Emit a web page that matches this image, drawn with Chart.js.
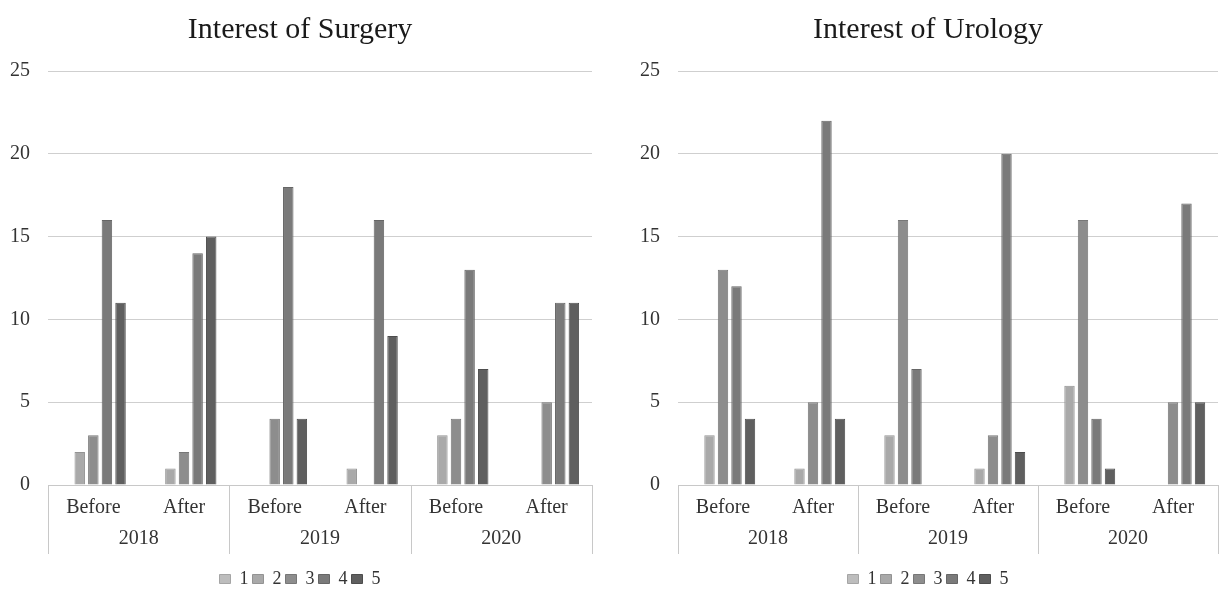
<!DOCTYPE html>
<html>
<head>
<meta charset="utf-8">
<script src="https://cdn.jsdelivr.net/npm/chart.js@4"></script>
<style>
  html, body { margin: 0; padding: 0; background: #fff; overflow: hidden; }
  body { width: 1219px; height: 591px; position: relative; }
  .box { position: absolute; top: 0; height: 598px; }
  #boxL { left: 0; width: 600px; }
  #boxR { left: 630px; width: 589px; }
</style>
</head>
<body>
<div class="box" id="boxL"><canvas id="chartSurgery"></canvas></div>
<div class="box" id="boxR"><canvas id="chartUrology"></canvas></div>
<script>
const categories = ['Before', 'After', 'Before', 'After', 'Before', 'After'];
const years = ['2018', '2019', '2020'];
const seriesNames = ['1', '2', '3', '4', '5'];
const yTicks = [0, 5, 10, 15, 20, 25];

// Interest of Surgery
const surgery1 = [0, 0, 0, 0, 0, 0];
const surgery2 = [2, 1, 0, 1, 3, 0];
const surgery3 = [3, 2, 4, 0, 4, 5];
const surgery4 = [16, 14, 18, 16, 13, 11];
const surgery5 = [11, 15, 4, 9, 7, 11];

// Interest of Urology
const urology1 = [0, 0, 0, 0, 0, 0];
const urology2 = [3, 1, 3, 1, 6, 0];
const urology3 = [13, 5, 16, 3, 16, 5];
const urology4 = [12, 22, 7, 20, 4, 17];
const urology5 = [4, 4, 0, 2, 1, 5];

const fills = ['#bdbdbd', '#a9a9a9', '#8d8d8d', '#7a7a7a', '#5f5f5f'];
const edges = ['#a5a5a5', '#939393', '#777777', '#666666', '#4d4d4d'];
const serif = 'Liberation Serif';

// vertical separators between year groups, spanning both label rows
const groupLines = {
  id: 'groupLines',
  afterDraw(chart) {
    const x = chart.scales.x, x2 = chart.scales.x2;
    const top = chart.chartArea.bottom, bottom = x2.top + 31;
    const xs = [x.left];
    for (let i = 1; i < years.length; i++) {
      const k = i * 2;
      xs.push((x.getPixelForValue(k - 1) + x.getPixelForValue(k)) / 2);
    }
    xs.push(x.right);
    const ctx = chart.ctx;
    ctx.save();
    ctx.strokeStyle = '#c8c8c8';
    ctx.lineWidth = 1;
    xs.forEach(px => {
      const p = Math.round(px) + 0.5;
      ctx.beginPath();
      ctx.moveTo(p, top);
      ctx.lineTo(p, bottom);
      ctx.stroke();
    });
    ctx.restore();
  }
};

function makeChart(id, title, series, pad, yWidth, yPad) {
  return new Chart(document.getElementById(id), {
    type: 'bar',
    data: {
      labels: categories,
      datasets: series.map((s, i) => ({
        label: seriesNames[i],
        data: s,
        backgroundColor: fills[i],
        borderColor: edges[i],
        borderWidth: 1,
        categoryPercentage: 0.75,
        barPercentage: 0.77,
      })),
    },
    options: {
      responsive: true,
      maintainAspectRatio: false,
      animation: false,
      layout: { padding: { left: pad[0], right: pad[1], top: 0, bottom: 0 } },
      plugins: {
        title: {
          display: true,
          text: title,
          color: '#1a1a1a',
          font: { family: serif, size: 30, weight: 'normal' },
          padding: { top: 12, bottom: 23 },
        },
        legend: {
          position: 'bottom',
          labels: {
            color: '#333',
            font: { family: serif, size: 18 },
            boxWidth: 11,
            boxHeight: 9,
            padding: 4,
          },
        },
        tooltip: { enabled: false },
      },
      scales: {
        x: {
          position: 'bottom',
          offset: true,
          afterFit: s => { s.height = 38; },
          grid: { display: false, drawTicks: false },
          border: { display: true, color: '#c8c8c8' },
          ticks: { color: '#333', font: { family: serif, size: 20 }, padding: 11, maxRotation: 0, autoSkip: false },
        },
        x2: {
          type: 'category',
          position: 'bottom',
          labels: years,
          offset: true,
          afterFit: s => { s.height = 43; },
          grid: { display: false, drawTicks: false },
          border: { display: false },
          ticks: { color: '#333', font: { family: serif, size: 20 }, padding: 4, maxRotation: 0 },
        },
        y: {
          min: 0,
          max: 25,
          afterBuildTicks: s => { s.ticks = yTicks.map(v => ({ value: v })); },
          afterFit: s => { s.width = yWidth; },
          grid: { color: '#cfcfcf', lineWidth: 1, drawTicks: false },
          border: { display: false },
          ticks: { color: '#333', font: { family: serif, size: 20 }, padding: yPad },
        },
      },
    },
    plugins: [groupLines],
  });
}

makeChart('chartSurgery', 'Interest of Surgery',
  [surgery1, surgery2, surgery3, surgery4, surgery5], [8, 8], 40, 18);
makeChart('chartUrology', 'Interest of Urology',
  [urology1, urology2, urology3, urology4, urology5], [8, 1], 40, 18);
</script>
</body>
</html>
